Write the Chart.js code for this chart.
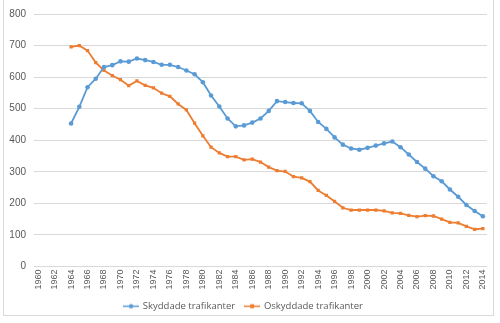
<!DOCTYPE html>
<html lang="sv">
<head>
    <meta charset="UTF-8">
    <title>Trafikanter 1960-2014</title>
    <script src="https://cdn.jsdelivr.net/npm/chart.js"></script>
    <style>
        body {
            margin: 0;
            background: #fff;
        }

        .wrap {
            width: 500px;
            height: 323px;
        }
    </style>
</head>
<body>
    <div class="wrap">
        <canvas id="myChart" width="500" height="323"></canvas>
    </div>

    <script>
        const years = [];
        for (let y = 1960; y <= 2014; y++) years.push(String(y));

        // 1960-1963 saknas, serierna börjar 1964
        const skyddade = [null, null, null, null,
            453, 506, 568, 595, 632, 638, 650, 649, 659, 654,
            648, 639, 639, 632, 621, 609, 584, 542, 507, 469,
            444, 447, 456, 469, 493, 524, 521, 518, 517, 493,
            458, 436, 409, 386, 374, 370, 376, 383, 390, 396,
            378, 355, 331, 310, 286, 270, 244, 221, 195, 176, 159];

        const oskyddade = [null, null, null, null,
            696, 700, 684, 646, 621, 605, 592, 573, 588, 574,
            566, 549, 539, 515, 496, 454, 414, 378, 360, 348,
            348, 338, 340, 331, 315, 304, 301, 285, 281, 269,
            241, 225, 206, 186, 179, 179, 179, 179, 176, 170,
            168, 162, 158, 161, 160, 150, 140, 138, 127, 118, 120];

        const blue = '#5b9bd5';
        const orange = '#ed7d31';
        const textColor = '#595959';
        const gridColor = '#d9d9d9';

        // small line + marker icon for the legend
        function legendIcon(color, square) {
            const c = document.createElement('canvas');
            c.width = 16;
            c.height = 7;
            const g = c.getContext('2d');
            g.strokeStyle = color;
            g.lineWidth = 1.5;
            g.beginPath();
            g.moveTo(0, 3.5);
            g.lineTo(16, 3.5);
            g.stroke();
            g.fillStyle = color;
            if (square) {
                g.fillRect(6, 1.5, 4, 4);
            } else {
                g.beginPath();
                g.arc(8, 3.5, 2.2, 0, Math.PI * 2);
                g.fill();
            }
            return c;
        }
        const icons = [legendIcon(blue, false), legendIcon(orange, true)];

        const frame = {
            id: 'frame',
            afterDraw(chart) {
                const ctx = chart.ctx;
                ctx.save();
                ctx.strokeStyle = gridColor;
                ctx.lineWidth = 1;
                ctx.strokeRect(3.5, -0.5, 490, 316);
                ctx.restore();
            }
        };

        const ctx = document.getElementById('myChart').getContext('2d');
        const myChart = new Chart(ctx, {
            type: 'line',
            data: {
                labels: years,
                datasets: [{
                    label: 'Skyddade trafikanter',
                    data: skyddade,
                    borderColor: blue,
                    backgroundColor: blue,
                    borderWidth: 1.8,
                    pointStyle: 'circle',
                    pointRadius: 2.3,
                    pointBorderWidth: 0,
                    tension: 0
                },
                {
                    label: 'Oskyddade trafikanter',
                    data: oskyddade,
                    borderColor: orange,
                    backgroundColor: orange,
                    borderWidth: 1.8,
                    pointStyle: 'rect',
                    pointRadius: 2.3,
                    pointBorderWidth: 0,
                    tension: 0
                }]
            },
            options: {
                responsive: false,
                animation: false,
                layout: {
                    padding: { top: 13, right: 13, bottom: 2, left: 0 }
                },
                plugins: {
                    tooltip: { enabled: false },
                    legend: {
                        position: 'bottom',
                        labels: {
                            color: textColor,
                            font: { family: 'Open Sans', size: 9.5 },
                            padding: 10,
                            usePointStyle: true,
                            pointStyleWidth: 14,
                            generateLabels(chart) {
                                const items = Chart.defaults.plugins.legend.labels.generateLabels(chart);
                                items.forEach((it, i) => { it.pointStyle = icons[i]; });
                                return items;
                            }
                        }
                    }
                },
                scales: {
                    x: {
                        offset: true,
                        grid: { display: false, drawTicks: false },
                        border: { display: false },
                        ticks: {
                            color: textColor,
                            font: { family: 'Liberation Sans', size: 9 },
                            autoSkip: false,
                            minRotation: 90,
                            maxRotation: 90,
                            padding: 3,
                            callback(value, index) {
                                return index % 2 === 0 ? years[index] : '';
                            }
                        },
                        afterFit(scale) {
                            scale.height = 25;
                        }
                    },
                    y: {
                        min: 0,
                        max: 800,
                        border: { display: false },
                        grid: { color: gridColor, drawTicks: false },
                        ticks: {
                            stepSize: 100,
                            color: textColor,
                            font: { family: 'Liberation Sans', size: 10 },
                            padding: 8
                        },
                        afterFit(scale) {
                            scale.width = 34;
                        }
                    }
                }
            },
            plugins: [frame]
        });
    </script>
</body>
</html>
